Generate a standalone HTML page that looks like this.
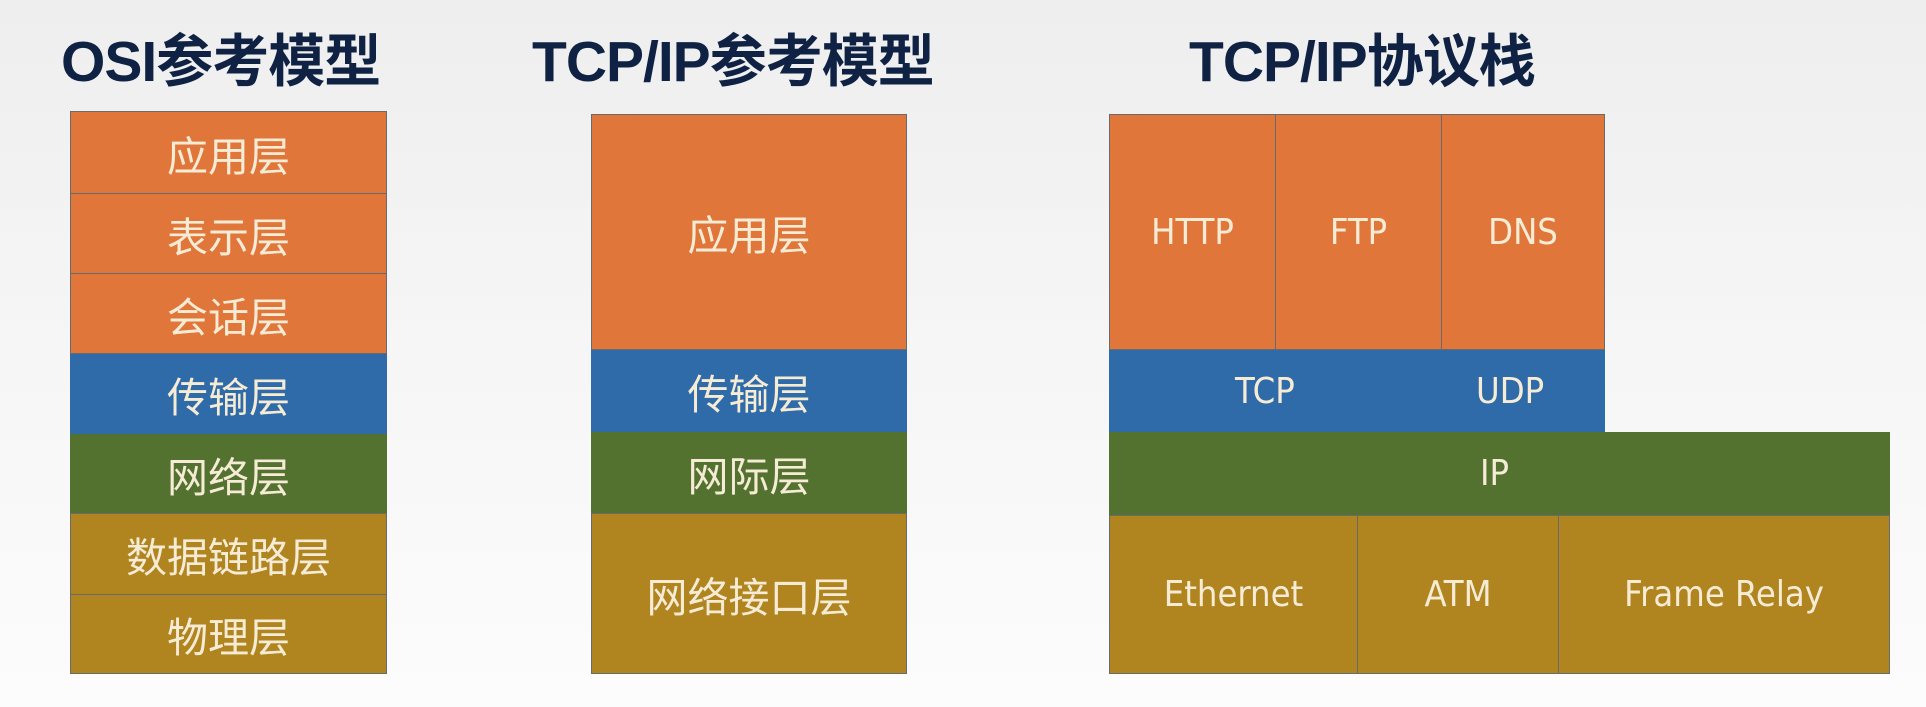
<!DOCTYPE html>
<html><head><meta charset="utf-8"><style>
body{margin:0;width:1926px;height:707px;overflow:hidden;background:linear-gradient(#eeeeee,#f6f6f6 50%,#fcfcfc);font-family:"Liberation Sans","Noto Sans CJK SC",sans-serif;position:relative}
.t{position:absolute;font-weight:bold;color:#0f2244;font-size:57px;top:16px;white-space:nowrap;letter-spacing:-1px}
.b{position:absolute;box-sizing:border-box;display:flex;align-items:center;justify-content:center;color:#f6ecd6;font-size:41px;border:1px solid #6a6a6a}
.e{font-size:36px;font-family:"DejaVu Sans Condensed","Liberation Sans",sans-serif}
.o{background:#e07639}.u{background:#2f6ba8;border-color:#2f6ba8}.g{background:#53712f;border-color:#53712f}.y{background:#b0841f}
</style></head><body>
<div class="t" style="left:61px">OSI参考模型</div>
<div class="t" style="left:532px">TCP/IP参考模型</div>
<div class="t" style="left:1189px">TCP/IP协议栈</div>

<div class="b o" style="left:70px;top:111px;width:317px;height:83px">应用层</div>
<div class="b o" style="left:70px;top:193px;width:317px;height:81px">表示层</div>
<div class="b o" style="left:70px;top:273px;width:317px;height:81px">会话层</div>
<div class="b u" style="left:70px;top:354px;width:317px;height:80px">传输层</div>
<div class="b g" style="left:70px;top:434px;width:317px;height:80px">网络层</div>
<div class="b y" style="left:70px;top:513px;width:317px;height:82px">数据链路层</div>
<div class="b y" style="left:70px;top:594px;width:317px;height:80px">物理层</div>

<div class="b o" style="left:591px;top:114px;width:316px;height:236px">应用层</div>
<div class="b u" style="left:591px;top:350px;width:316px;height:82px">传输层</div>
<div class="b g" style="left:591px;top:432px;width:316px;height:81px">网际层</div>
<div class="b y" style="left:591px;top:513px;width:316px;height:161px">网络接口层</div>

<div class="b o e" style="left:1109px;top:114px;width:167px;height:236px">HTTP</div>
<div class="b o e" style="left:1275px;top:114px;width:167px;height:236px">FTP</div>
<div class="b o e" style="left:1441px;top:114px;width:164px;height:236px">DNS</div>
<div class="b u e" style="left:1109px;top:350px;width:496px;height:82px;justify-content:flex-start"><span style="position:absolute;left:125px">TCP</span><span style="position:absolute;left:366px">UDP</span></div>
<div class="b g e" style="left:1109px;top:432px;width:781px;height:83px;padding-right:10px">IP</div>
<div class="b y e" style="left:1109px;top:515px;width:249px;height:159px">Ethernet</div>
<div class="b y e" style="left:1357px;top:515px;width:202px;height:159px">ATM</div>
<div class="b y e" style="left:1558px;top:515px;width:332px;height:159px">Frame Relay</div>
</body></html>
